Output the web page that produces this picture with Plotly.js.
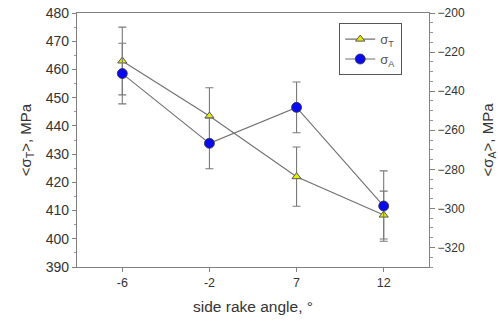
<!DOCTYPE html>
<html>
<head>
<meta charset="utf-8">
<script src="https://cdn.plot.ly/plotly-3.0.1.min.js"></script>
<style>html,body{margin:0;padding:0;background:#fff;}#chart{width:498px;height:324px;}</style>
</head>
<body>
<div id="chart"></div>
<script>
const categories = ["-6", "-2", "7", "12"];
const sigmaT = [463, 443.5, 422, 408.4];
const sigmaTErr = [12, 10, 10.5, 8.5];
const sigmaA = [-231, -266.7, -248.3, -298.8];
const sigmaAErr = [15.5, 13, 13, 18];

const xIdx = categories.map((c, i) => i);
const lineColor = "#707070";
const errColor = "#7a7a7a";

const traces = [
  {
    x: xIdx, y: sigmaT, name: "σ<sub>T</sub>", type: "scatter", mode: "lines+markers",
    line: {color: lineColor, width: 1.1},
    marker: {symbol: "triangle-up", size: 8, color: "#e6ee00", line: {color: "#555", width: 1}},
    error_y: {type: "data", array: sigmaTErr, visible: true, color: errColor, thickness: 1.1, width: 4},
    yaxis: "y"
  },
  {
    x: xIdx, y: sigmaA, name: "σ<sub>A</sub>", type: "scatter", mode: "lines+markers",
    line: {color: lineColor, width: 1.1},
    marker: {symbol: "circle", size: 10, color: "#0a0af0", line: {color: "#333", width: 0.8}},
    error_y: {type: "data", array: sigmaAErr, visible: true, color: errColor, thickness: 1.1, width: 4},
    yaxis: "y2"
  }
];

const fam = "Liberation Sans, Arial, sans-serif";
const titleFont = {family: fam, size: 15, color: "#333"};

const layout = {
  width: 498, height: 324,
  margin: {l: 77, r: 69, t: 13, b: 57},
  paper_bgcolor: "#fff", plot_bgcolor: "#fff",
  showlegend: true,
  legend: {
    x: 0.745, y: 0.96, xanchor: "left", yanchor: "top",
    bordercolor: "#555", borderwidth: 1, bgcolor: "#fff",
    font: {family: fam, size: 13, color: "#555"},
    itemwidth: 30, tracegroupgap: 4
  },
  xaxis: {
    range: [-0.52, 3.52],
    tickvals: xIdx, ticktext: categories,
    showgrid: false, zeroline: false,
    showline: true, linecolor: "#808080", linewidth: 1.2, mirror: true,
    ticks: "outside", ticklen: 4, tickcolor: "#808080",
    tickfont: {family: fam, size: 12.5, color: "#333"},
    title: {text: "side rake angle, °", font: {family: fam, size: 15.5, color: "#333"}, standoff: 12}
  },
  yaxis: {
    range: [390, 480], dtick: 10, tick0: 390,
    showgrid: false, zeroline: false,
    showline: true, linecolor: "#808080", linewidth: 1.2, mirror: false,
    ticks: "outside", ticklen: 4, tickcolor: "#808080",
    minor: {dtick: 5, ticks: "outside", ticklen: 2, tickcolor: "#999"},
    tickfont: {family: fam, size: 14, color: "#333"},
    title: {text: "<σ<sub>T</sub>>, MPa", font: titleFont, standoff: 10}
  },
  yaxis2: {
    overlaying: "y", side: "right",
    range: [-330, -200],
    tickvals: [-320, -300, -280, -260, -240, -220, -200],
    showgrid: false, zeroline: false,
    showline: true, linecolor: "#808080", linewidth: 1.2,
    ticks: "outside", ticklen: 5, tickcolor: "#808080",
    minor: {dtick: 5, ticks: "outside", ticklen: 3, tickcolor: "#999"},
    tickfont: {family: fam, size: 12, color: "#333"},
    title: {text: "<σ<sub>A</sub>>, MPa", font: titleFont, standoff: 20}
  }
};

Plotly.newPlot("chart", traces, layout, {displayModeBar: false, staticPlot: true});
</script>
</body>
</html>
